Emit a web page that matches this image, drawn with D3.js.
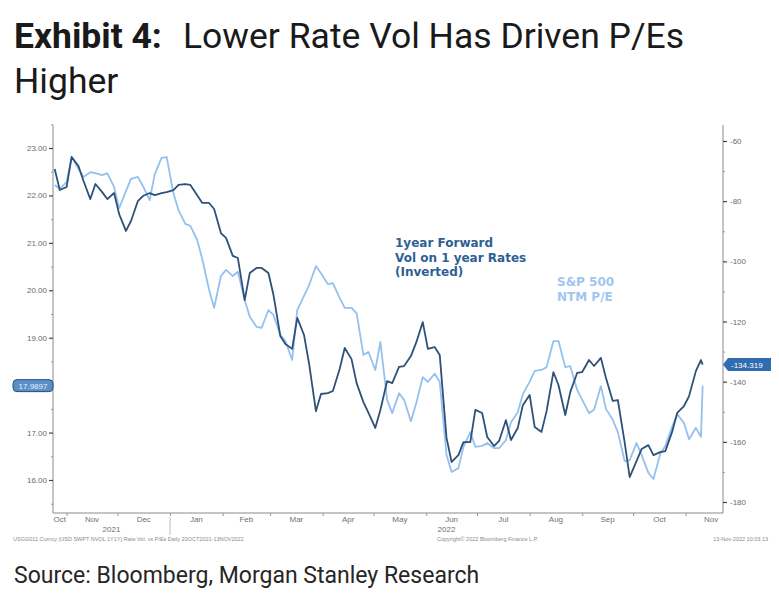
<!DOCTYPE html>
<html><head><meta charset="utf-8">
<script src="https://cdn.jsdelivr.net/npm/d3@7"></script>
<style>
html,body{margin:0;padding:0;background:#fff;}
svg{display:block;}
</style></head>
<body>
<svg id="chart" width="779" height="595"></svg>
<script>
const dates = ["2021-10-25","2021-10-28","2021-11-01","2021-11-04","2021-11-08","2021-11-11","2021-11-15","2021-11-18","2021-11-22","2021-11-25","2021-11-29","2021-12-02","2021-12-06","2021-12-09","2021-12-13","2021-12-16","2021-12-20","2021-12-23","2021-12-27","2021-12-30","2022-01-03","2022-01-06","2022-01-10","2022-01-13","2022-01-17","2022-01-20","2022-01-24","2022-01-27","2022-01-31","2022-02-03","2022-02-07","2022-02-10","2022-02-14","2022-02-17","2022-02-21","2022-02-24","2022-02-28","2022-03-03","2022-03-07","2022-03-10","2022-03-14","2022-03-17","2022-03-21","2022-03-24","2022-03-28","2022-03-31","2022-04-04","2022-04-07","2022-04-11","2022-04-14","2022-04-18","2022-04-21","2022-04-25","2022-04-28","2022-05-02","2022-05-05","2022-05-09","2022-05-12","2022-05-16","2022-05-19","2022-05-23","2022-05-26","2022-05-30","2022-06-02","2022-06-06","2022-06-09","2022-06-13","2022-06-16","2022-06-20","2022-06-23","2022-06-27","2022-06-30","2022-07-04","2022-07-07","2022-07-11","2022-07-14","2022-07-18","2022-07-21","2022-07-25","2022-07-28","2022-08-01","2022-08-04","2022-08-08","2022-08-11","2022-08-15","2022-08-18","2022-08-22","2022-08-25","2022-08-29","2022-09-01","2022-09-05","2022-09-08","2022-09-12","2022-09-15","2022-09-19","2022-09-22","2022-09-26","2022-09-29","2022-10-03","2022-10-06","2022-10-10","2022-10-13","2022-10-17","2022-10-20","2022-10-24","2022-10-27","2022-10-31","2022-11-03","2022-11-07","2022-11-10","2022-11-11"];

// 1year forward vol on 1 year rates (inverted), right axis
const rateVolInverted = [-69.3,-76.3,-75.3,-65.3,-68.3,-73.3,-79.3,-74.3,-77.0,-79.3,-77.3,-84.3,-89.9,-86.6,-80.0,-78.3,-77.3,-78.0,-77.3,-77.0,-76.3,-74.6,-74.3,-74.6,-78.0,-80.6,-80.6,-82.6,-90.6,-92.2,-98.2,-98.9,-112.9,-103.9,-102.2,-102.2,-103.9,-111.2,-124.8,-127.5,-129.1,-118.8,-124.5,-134.1,-149.8,-144.1,-143.8,-143.1,-135.8,-128.8,-132.5,-140.5,-146.8,-150.4,-155.4,-149.4,-139.8,-140.5,-135.1,-134.8,-131.5,-127.2,-120.2,-129.1,-128.5,-131.1,-158.7,-166.7,-164.4,-160.1,-160.1,-149.4,-150.4,-158.4,-161.4,-159.7,-152.8,-159.4,-155.4,-147.8,-144.4,-155.1,-156.7,-149.8,-136.8,-141.1,-151.1,-143.4,-137.1,-136.8,-132.8,-134.8,-132.1,-138.8,-146.4,-146.1,-160.1,-171.7,-166.4,-162.4,-161.1,-164.4,-163.4,-163.1,-156.7,-150.4,-148.1,-144.8,-136.5,-132.8,-134.319];

// S&P 500 NTM P/E, left axis
const spxPE = [22.22,22.14,22.28,22.81,22.56,22.39,22.49,22.47,22.43,22.47,22.18,21.73,22.09,22.35,22.39,22.20,21.90,22.45,22.79,22.81,22.05,21.69,21.40,21.36,21.06,20.66,20.01,19.63,20.30,20.43,20.30,20.39,19.80,19.44,19.23,19.21,19.58,19.48,19.06,18.93,18.53,19.58,19.88,20.11,20.51,20.36,20.13,20.15,19.84,19.63,19.63,19.52,18.64,18.70,18.32,18.91,17.69,17.41,17.83,17.69,17.24,17.60,18.17,18.07,18.24,18.07,16.53,16.17,16.25,16.70,17.01,16.70,16.72,16.78,16.67,16.67,16.84,17.22,17.43,17.81,18.07,18.30,18.32,18.38,18.93,18.93,18.38,18.40,17.90,17.69,17.41,17.48,17.98,17.50,17.27,17.01,16.40,16.42,16.78,16.53,16.15,16.02,16.55,16.72,17.12,17.39,17.20,16.86,17.10,16.91,17.9897];

const leftTicks = [16,17,18,19,20,21,22,23];
const rightTicks = [-60,-80,-100,-120,-140,-160,-180];
const monthLabels = ["Oct","Nov","Dec","Jan","Feb","Mar","Apr","May","Jun","Jul","Aug","Sep","Oct","Nov"];
const yearLabels = ["2021","2022"];
const legendDark = ["1year Forward","Vol on 1 year Rates","(Inverted)"];
const legendLight = ["S&P 500","NTM P/E"];
const lastLabels = ["17.9897","-134.319"];

(function(){
const parse = d3.timeParse("%Y-%m-%d");
const D = dates.map(parse);
const svg = d3.select("#chart");

const darkCol = "#2d5178", lightCol = "#94c1ee", axisCol = "#8a8a8a", txtCol = "#6b6b6b";
const tf = "Roboto, 'Noto Sans', sans-serif";

// Title
const title = svg.append("text").attr("x",14).attr("y",48)
  .style("font-family",tf).style("font-size","35.5px").attr("fill","#1a1a1a");
title.append("tspan").style("font-weight","700").text("Exhibit 4:");
title.append("tspan").attr("x",183).text("Lower Rate Vol Has Driven P/Es");
svg.append("text").attr("x",14).attr("y",93)
  .style("font-family",tf).style("font-size","35.5px").attr("fill","#1a1a1a")
  .text("Higher");

// Source
svg.append("text").attr("x",14).attr("y",583)
  .style("font-family",tf).style("font-size","23px").attr("fill","#262626")
  .text("Source: Bloomberg, Morgan Stanley Research");

// Scales
const x0 = parse("2021-10-24"), x1 = parse("2022-11-23");
const x = d3.scaleTime().domain([x0, x1]).range([53, 723]);
const yL = d3.scaleLinear().domain([16, 23]).range([480, 148]);
const yR = d3.scaleLinear().domain([-180, -60]).range([502, 141]);
const plotTop = 125, plotBottom = 513;

const font = "'Liberation Sans', Arial, sans-serif";

// axes frame
svg.append("line").attr("x1",53).attr("x2",53).attr("y1",plotTop).attr("y2",plotBottom).attr("stroke",axisCol).attr("stroke-width",1);
svg.append("line").attr("x1",723).attr("x2",723).attr("y1",plotTop).attr("y2",plotBottom).attr("stroke",axisCol).attr("stroke-width",1);
svg.append("line").attr("x1",53).attr("x2",723).attr("y1",plotBottom).attr("y2",plotBottom).attr("stroke",axisCol).attr("stroke-width",1);

// Left axis
const gL = svg.append("g").attr("transform","translate(53,0)")
  .call(d3.axisLeft(yL).tickValues(leftTicks).tickFormat(d3.format(".2f")).tickSize(4).tickPadding(2));
gL.select(".domain").remove();
gL.selectAll(".tick line").attr("stroke","#444").attr("stroke-width",1.2);
gL.selectAll(".tick text").attr("fill",txtCol).style("font-family",font).style("font-size","8px");
gL.selectAll(".tick").filter(d=>d===18).select("text").remove();
const gLm = svg.append("g").attr("transform","translate(53,0)")
  .call(d3.axisLeft(yL).tickValues(d3.range(15.5,23.6,1)).tickFormat("").tickSize(2));
gLm.select(".domain").remove();
gLm.selectAll(".tick line").attr("stroke","#999");

// Right axis
const gR = svg.append("g").attr("transform","translate(723,0)")
  .call(d3.axisRight(yR).tickValues(rightTicks).tickFormat(d=>"-"+Math.abs(d)).tickSize(4).tickPadding(3));
gR.select(".domain").remove();
gR.selectAll(".tick line").attr("stroke","#444").attr("stroke-width",1.2);
gR.selectAll(".tick text").attr("fill",txtCol).style("font-family",font).style("font-size","8px");
const gRm = svg.append("g").attr("transform","translate(723,0)")
  .call(d3.axisRight(yR).tickValues([-70,-90,-110,-130,-150,-170]).tickFormat("").tickSize(2));
gRm.select(".domain").remove();
gRm.selectAll(".tick line").attr("stroke","#999");

// Bottom axis: ticks at month starts, labels mid-month
const monthStarts = d3.timeMonth.range(parse("2021-11-01"), parse("2022-11-02"));
const gB = svg.append("g").attr("transform",`translate(0,${plotBottom})`)
  .call(d3.axisBottom(x).tickValues(monthStarts).tickFormat("").tickSize(3));
gB.select(".domain").remove();
gB.selectAll(".tick line").attr("stroke","#999");

const allMonths = d3.timeMonth.range(parse("2021-10-01"), parse("2022-11-02"));
svg.append("g").selectAll("text").data(allMonths).join("text")
  .attr("x",(m,i)=>{
    const s = m < x0 ? x0 : m;
    const e = d3.timeMonth.offset(m,1);
    return x(new Date((+s + +e)/2));
  })
  .attr("y",522).attr("text-anchor","middle")
  .attr("fill","#707070").style("font-family",font).style("font-size","8px")
  .text((m,i)=>monthLabels[i]);

// Year labels & separator
const jan = parse("2022-01-01");
svg.append("line").attr("x1",x(jan)).attr("x2",x(jan)).attr("y1",plotBottom+4).attr("y2",plotBottom+22).attr("stroke","#bbb");
svg.append("text").attr("x",(53+x(jan))/2).attr("y",532).attr("text-anchor","middle")
  .attr("fill","#707070").style("font-family",font).style("font-size","8px").text(yearLabels[0]);
svg.append("text").attr("x",(x(jan)+723)/2).attr("y",532).attr("text-anchor","middle")
  .attr("fill","#707070").style("font-family",font).style("font-size","8px").text(yearLabels[1]);

// Footer small texts
const foot = {fill:"#8a8a8a", size:"5.5px"};
svg.append("text").attr("x",13).attr("y",541).attr("fill",foot.fill).style("font-family",font).style("font-size",foot.size)
  .text("USGG011 Curncy (USD SWPT NVOL 1Y1Y) Rate Vol. vs P/Es   Daily 20OCT2021-13NOV2022");
svg.append("text").attr("x",437).attr("y",541).attr("fill",foot.fill).style("font-family",font).style("font-size",foot.size)
  .text("Copyright\u00a9 2022 Bloomberg Finance L.P.");
svg.append("text").attr("x",768).attr("y",541).attr("text-anchor","end").attr("fill",foot.fill).style("font-family",font).style("font-size",foot.size)
  .text("13-Nov-2022 10:03:13");

// Lines
const lightLine = d3.line().x((d,i)=>x(D[i])).y(d=>yL(d));
const darkLine = d3.line().x((d,i)=>x(D[i])).y(d=>yR(d));
svg.append("path").datum(spxPE).attr("d",lightLine).attr("fill","none")
  .attr("stroke",lightCol).attr("stroke-width",1.8).attr("stroke-linejoin","round");
svg.append("path").datum(rateVolInverted).attr("d",darkLine).attr("fill","none")
  .attr("stroke",darkCol).attr("stroke-width",1.8).attr("stroke-linejoin","round");

// Legend texts
const lf = "'DejaVu Sans', Verdana, sans-serif";
svg.append("g").selectAll("text").data(legendDark).join("text")
  .attr("x",395).attr("y",(d,i)=>247+i*14.5).attr("fill","#2f5f93")
  .style("font-family",lf).style("font-weight","700").style("font-size","12px").text(d=>d);
svg.append("g").selectAll("text").data(legendLight).join("text")
  .attr("x",557).attr("y",(d,i)=>286+i*14.5).attr("fill","#9fc6ef")
  .style("font-family",lf).style("font-weight","700").style("font-size","12px").text(d=>d);

// Last-value boxes
const lastPE = spxPE[spxPE.length-1], lastVol = rateVolInverted[rateVolInverted.length-1];
const yl = yL(lastPE);
svg.append("rect").attr("x",13).attr("y",yl-6).attr("width",40).attr("height",12).attr("rx",4)
  .attr("fill","#5a8fc9").attr("stroke","#2b4f7a").attr("stroke-width",1);
svg.append("text").attr("x",33).attr("y",yl+3).attr("text-anchor","middle").attr("fill","#e8f0fa")
  .style("font-family",font).style("font-size","8px").text(lastLabels[0]);
const yr = yR(lastVol);
svg.append("path").attr("d",`M723,${yr} L728,${yr-6.5} L771,${yr-6.5} L771,${yr+6.5} L728,${yr+6.5} Z`)
  .attr("fill","#2f6cb0");
svg.append("text").attr("x",731).attr("y",yr+3).attr("fill","#ffffff")
  .style("font-family",font).style("font-size","8px").text(lastLabels[1]);
})();
</script>
</body></html>
